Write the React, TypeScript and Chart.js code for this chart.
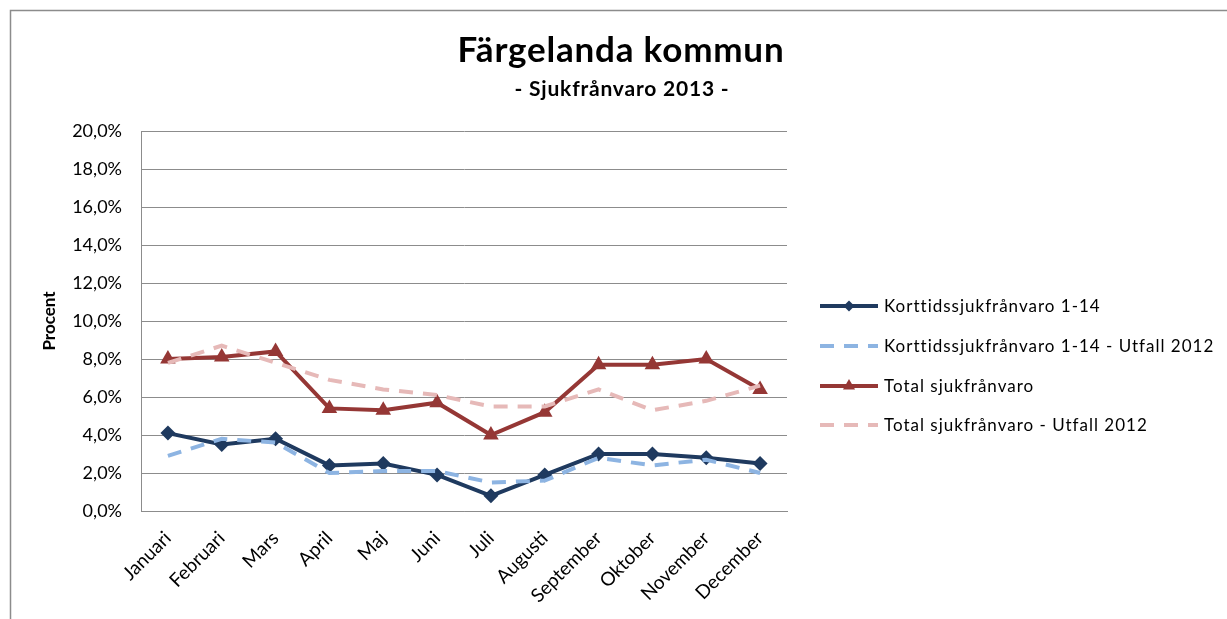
import React, { useEffect, useRef } from 'react';
import { Chart, registerables } from 'chart.js';

Chart.register(...registerables);

const months = ['Januari', 'Februari', 'Mars', 'April', 'Maj', 'Juni', 'Juli', 'Augusti', 'September', 'Oktober', 'November', 'December'];
const korttid = [4.1, 3.5, 3.8, 2.4, 2.5, 1.9, 0.8, 1.9, 3.0, 3.0, 2.8, 2.5];
const korttid2012 = [2.9, 3.8, 3.6, 2.0, 2.1, 2.1, 1.5, 1.6, 2.8, 2.4, 2.7, 2.0];
const total = [8.0, 8.1, 8.4, 5.4, 5.3, 5.7, 4.0, 5.2, 7.7, 7.7, 8.0, 6.4];
const total2012 = [7.8, 8.7, 7.8, 6.9, 6.4, 6.1, 5.5, 5.5, 6.4, 5.3, 5.8, 6.6];

const seriesNames = [
  'Korttidssjukfrånvaro 1-14',
  'Korttidssjukfrånvaro 1-14 - Utfall 2012',
  'Total sjukfrånvaro',
  'Total sjukfrånvaro - Utfall 2012',
];
const titleText = 'Färgelanda kommun';
const subtitleText = '- Sjukfrånvaro 2013 -';
const yTitle = 'Procent';

const DARK_BLUE = '#1F3A5F';
const LIGHT_BLUE = '#8DB4E2';
const RED = '#953735';
const PINK = '#E6B9B8';
const FONT = "Lato, 'Noto Sans', sans-serif";
const DASH = [14, 10];

const decor = {
  id: 'decor',
  beforeDraw(chart: any) {
    const ctx = chart.ctx;
    ctx.save();
    ctx.strokeStyle = '#8C8C8C';
    ctx.lineWidth = 1.5;
    ctx.strokeRect(10.5, 10.5, 1400, 800);
    ctx.restore();
  },
  afterDraw(chart: any) {
    const ctx = chart.ctx;
    ctx.save();
    ctx.fillStyle = '#000';
    ctx.textAlign = 'center';
    ctx.textBaseline = 'alphabetic';
    ctx.font = `bold 35px ${FONT}`;
    (ctx as any).letterSpacing = '0.8px';
    ctx.fillText(titleText, 621, 62);
    ctx.font = `bold 21px ${FONT}`;
    ctx.fillText(subtitleText, 622, 96);

    // legend
    const items = [
      { color: DARK_BLUE, dash: [], marker: 'diamond' },
      { color: LIGHT_BLUE, dash: DASH, marker: null },
      { color: RED, dash: [], marker: 'triangle' },
      { color: PINK, dash: DASH, marker: null },
    ];
    const ys = [306, 346, 386, 425];
    items.forEach((it, i) => {
      const y = ys[i];
      ctx.strokeStyle = it.color;
      ctx.lineWidth = 4;
      ctx.setLineDash(it.dash);
      ctx.beginPath();
      ctx.moveTo(820, y);
      ctx.lineTo(878, y);
      ctx.stroke();
      ctx.setLineDash([]);
      ctx.fillStyle = it.color;
      if (it.marker === 'diamond') {
        const r = 5.5;
        ctx.beginPath();
        ctx.moveTo(849, y - r);
        ctx.lineTo(849 + r, y);
        ctx.lineTo(849, y + r);
        ctx.lineTo(849 - r, y);
        ctx.closePath();
        ctx.fill();
      } else if (it.marker === 'triangle') {
        const r = 7;
        ctx.beginPath();
        ctx.moveTo(849, y - r);
        ctx.lineTo(849 + r * 0.866, y + r / 2);
        ctx.lineTo(849 - r * 0.866, y + r / 2);
        ctx.closePath();
        ctx.fill();
      }
      ctx.fillStyle = '#000';
      ctx.textAlign = 'left';
      ctx.textBaseline = 'middle';
      ctx.font = `17px ${FONT}`;
      (ctx as any).letterSpacing = '1px';
      ctx.fillText(seriesNames[i], 884, y + 1);
    });
    ctx.restore();
  },
};

export default function App() {
  const ref = useRef<HTMLCanvasElement | null>(null);
  useEffect(() => {
    if (!ref.current) return;
    const chart = new Chart(ref.current, {
      type: 'line',
      data: {
        labels: months,
        datasets: [
          {
            label: seriesNames[0], data: korttid, borderColor: DARK_BLUE, backgroundColor: DARK_BLUE,
            borderWidth: 4, pointStyle: 'rectRot', pointRadius: 7.5, pointBorderWidth: 0, tension: 0, order: 3,
          },
          {
            label: seriesNames[1], data: korttid2012, borderColor: LIGHT_BLUE, backgroundColor: LIGHT_BLUE,
            borderWidth: 4, borderDash: DASH, pointRadius: 0, tension: 0, order: 2,
          },
          {
            label: seriesNames[2], data: total, borderColor: RED, backgroundColor: RED,
            borderWidth: 4, pointStyle: 'triangle', pointRadius: 9, pointBorderWidth: 0, tension: 0, order: 1,
          },
          {
            label: seriesNames[3], data: total2012, borderColor: PINK, backgroundColor: PINK,
            borderWidth: 4, borderDash: DASH, pointRadius: 0, tension: 0, order: 0,
          },
        ],
      },
      options: {
        responsive: false,
        animation: false,
        layout: { padding: { top: 131, right: 440, left: 0, bottom: 0 } },
        plugins: { legend: { display: false }, title: { display: false }, tooltip: { enabled: false } },
        scales: {
          x: {
            offset: true,
            grid: { display: false, drawTicks: false },
            border: { display: true, color: '#8C8C8C', width: 1 },
            ticks: { color: '#000', font: { family: FONT, size: 19 }, maxRotation: 45, minRotation: 45, padding: 16, autoSkip: false },
            afterFit: (s: any) => { s.height = 108; },
          },
          y: {
            min: 0, max: 20,
            grid: { color: '#8C8C8C', lineWidth: 1, drawTicks: false },
            border: { display: true, color: '#8C8C8C', width: 1 },
            ticks: {
              stepSize: 2, padding: 19, color: '#000', font: { family: FONT, size: 18 },
              callback: (v: any) => `${Number(v).toFixed(1).replace('.', ',')}%`,
            },
            title: { display: true, text: yTitle, color: '#000', font: { family: FONT, size: 17, weight: 'bold' }, padding: { top: 39, bottom: 0 } },
            afterFit: (s: any) => { s.width = 141; },
          },
        },
      },
      plugins: [decor],
    } as any);
    return () => chart.destroy();
  }, []);
  return (
    <div style={{ position: 'absolute', left: 0, top: 0, width: 1227, height: 619, background: '#fff' }}>
      <canvas ref={ref} width={1227} height={619} style={{ display: 'block' }} />
    </div>
  );
}
